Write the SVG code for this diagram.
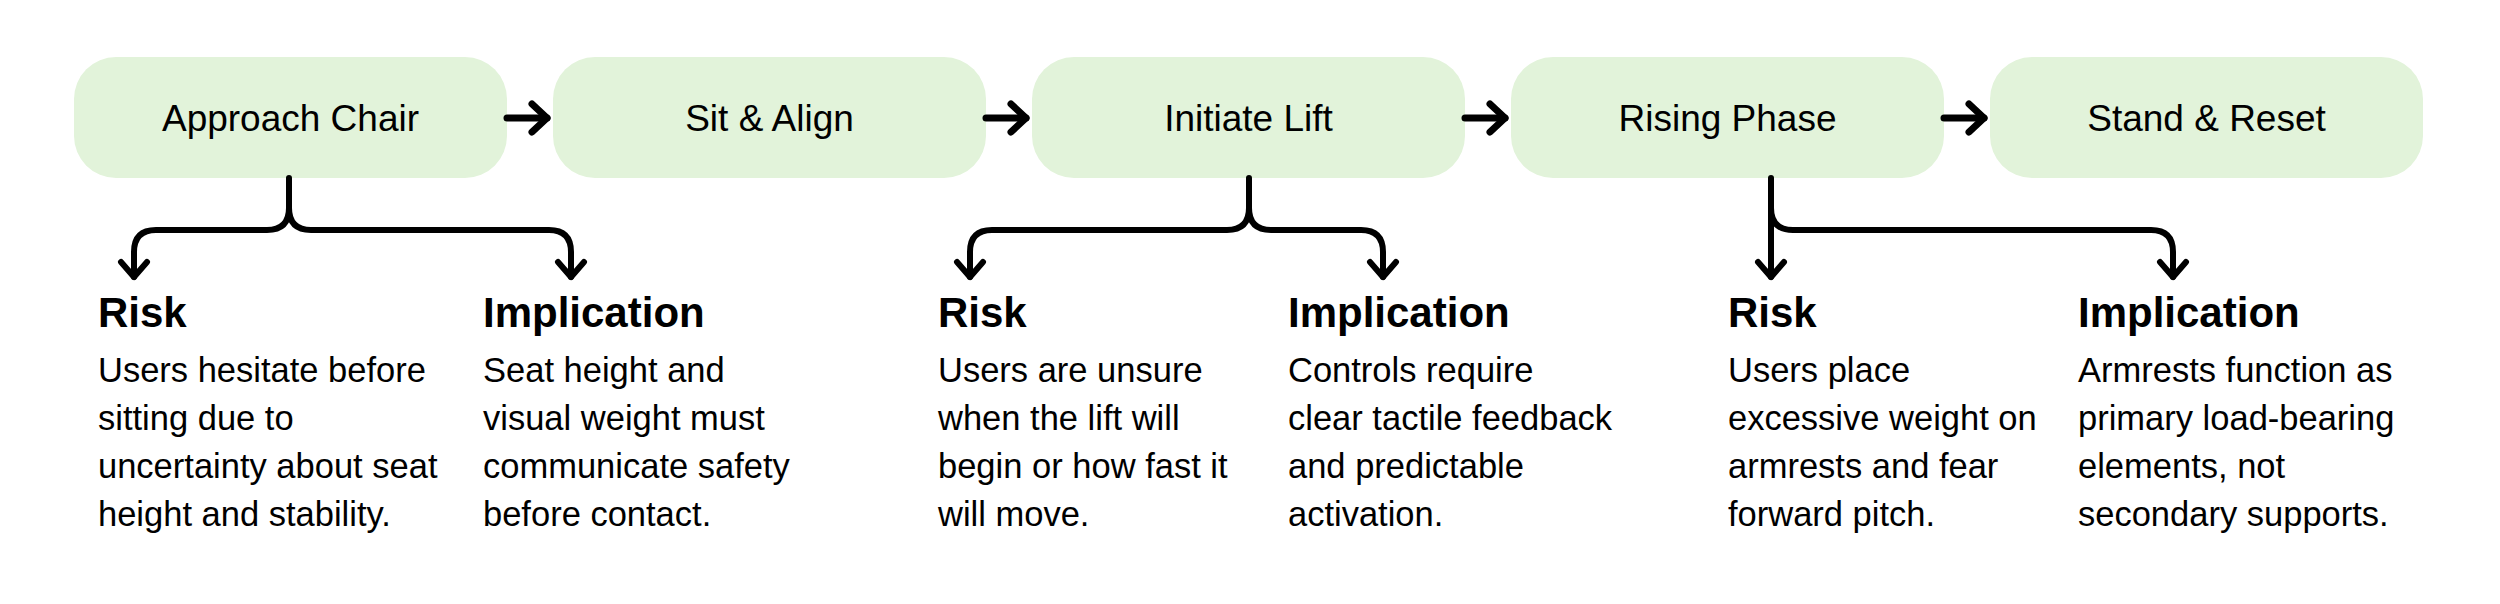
<svg xmlns="http://www.w3.org/2000/svg" width="2500" height="604" viewBox="0 0 2500 604">
  <defs>
    <style>
      .node rect { fill: #E2F3DA; }
      .node text { font-family: "Liberation Sans", Arial, sans-serif; font-size: 37px; fill: #000; text-anchor: middle; }
      .head { font-family: "Liberation Sans", Arial, sans-serif; font-size: 42px; font-weight: bold; fill: #000; }
      .body { font-family: "Liberation Sans", Arial, sans-serif; font-size: 34.5px; fill: #000; }
      .conn path { fill: none; stroke: #000; stroke-width: 6; stroke-linecap: round; stroke-linejoin: round; }
      .conn path.flow { stroke-width: 7; }
    </style>
    <marker id="chev" markerUnits="userSpaceOnUse" viewBox="-20 -20 40 40" markerWidth="40" markerHeight="40" refX="0" refY="0" orient="auto" overflow="visible">
      <path d="M-15,-13 L0,0 L-15,13" fill="none" stroke="#000" stroke-width="6" stroke-linecap="round" stroke-linejoin="round"/>
    </marker>
    <marker id="chev-flow" markerUnits="userSpaceOnUse" viewBox="-20 -20 40 40" markerWidth="40" markerHeight="40" refX="0" refY="0" orient="auto" overflow="visible">
      <path d="M-15,-14 L0,0 L-15,14" fill="none" stroke="#000" stroke-width="7" stroke-linecap="round" stroke-linejoin="round"/>
    </marker>
  </defs>
  <rect width="2500" height="604" fill="#fff"/>

  <g id="node-approach" class="node">
    <rect x="74" y="57" width="433" height="121" rx="42" ry="42"/>
    <text x="290.5" y="131">Approach Chair</text>
  </g>
  <g id="node-sit" class="node">
    <rect x="553" y="57" width="433" height="121" rx="42" ry="42"/>
    <text x="769.5" y="131">Sit &amp; Align</text>
  </g>
  <g id="node-initiate" class="node">
    <rect x="1032" y="57" width="433" height="121" rx="42" ry="42"/>
    <text x="1248.5" y="131">Initiate Lift</text>
  </g>
  <g id="node-rising" class="node">
    <rect x="1511" y="57" width="433" height="121" rx="42" ry="42"/>
    <text x="1727.5" y="131">Rising Phase</text>
  </g>
  <g id="node-stand" class="node">
    <rect x="1990" y="57" width="433" height="121" rx="42" ry="42"/>
    <text x="2206.5" y="131">Stand &amp; Reset</text>
  </g>

  <g id="risk-1">
    <text class="head" x="98" y="327">Risk</text>
    <text class="body"><tspan x="98" y="382">Users hesitate before</tspan><tspan x="98" y="430">sitting due to</tspan><tspan x="98" y="478">uncertainty about seat</tspan><tspan x="98" y="526">height and stability.</tspan></text>
  </g>
  <g id="implication-1">
    <text class="head" x="483" y="327">Implication</text>
    <text class="body"><tspan x="483" y="382">Seat height and</tspan><tspan x="483" y="430">visual weight must</tspan><tspan x="483" y="478">communicate safety</tspan><tspan x="483" y="526">before contact.</tspan></text>
  </g>
  <g id="risk-3">
    <text class="head" x="938" y="327">Risk</text>
    <text class="body"><tspan x="938" y="382">Users are unsure</tspan><tspan x="938" y="430">when the lift will</tspan><tspan x="938" y="478">begin or how fast it</tspan><tspan x="938" y="526">will move.</tspan></text>
  </g>
  <g id="implication-3">
    <text class="head" x="1288" y="327">Implication</text>
    <text class="body"><tspan x="1288" y="382">Controls require</tspan><tspan x="1288" y="430">clear tactile feedback</tspan><tspan x="1288" y="478">and predictable</tspan><tspan x="1288" y="526">activation.</tspan></text>
  </g>
  <g id="risk-4">
    <text class="head" x="1728" y="327">Risk</text>
    <text class="body"><tspan x="1728" y="382">Users place</tspan><tspan x="1728" y="430">excessive weight on</tspan><tspan x="1728" y="478">armrests and fear</tspan><tspan x="1728" y="526">forward pitch.</tspan></text>
  </g>
  <g id="implication-4">
    <text class="head" x="2078" y="327">Implication</text>
    <text class="body"><tspan x="2078" y="382">Armrests function as</tspan><tspan x="2078" y="430">primary load-bearing</tspan><tspan x="2078" y="478">elements, not</tspan><tspan x="2078" y="526">secondary supports.</tspan></text>
  </g>

  <g id="connectors" class="conn">
    <path class="flow" d="M507,118 H547" marker-end="url(#chev-flow)"/>
    <path class="flow" d="M986,118 H1026" marker-end="url(#chev-flow)"/>
    <path class="flow" d="M1465,118 H1505" marker-end="url(#chev-flow)"/>
    <path class="flow" d="M1944,118 H1984" marker-end="url(#chev-flow)"/>

    <path d="M289,178 V208 Q289,230 267,230 H156 Q134,230 134,252 V277" marker-end="url(#chev)"/>
    <path d="M289,208 Q289,230 311,230 H549 Q571,230 571,252 V277" marker-end="url(#chev)"/>

    <path d="M1249,178 V208 Q1249,230 1227,230 H992 Q970,230 970,252 V277" marker-end="url(#chev)"/>
    <path d="M1249,208 Q1249,230 1271,230 H1361 Q1383,230 1383,252 V277" marker-end="url(#chev)"/>

    <path d="M1771,178 V277" marker-end="url(#chev)"/>
    <path d="M1771,208 Q1771,230 1793,230 H2151 Q2173,230 2173,252 V277" marker-end="url(#chev)"/>
  </g>
</svg>
